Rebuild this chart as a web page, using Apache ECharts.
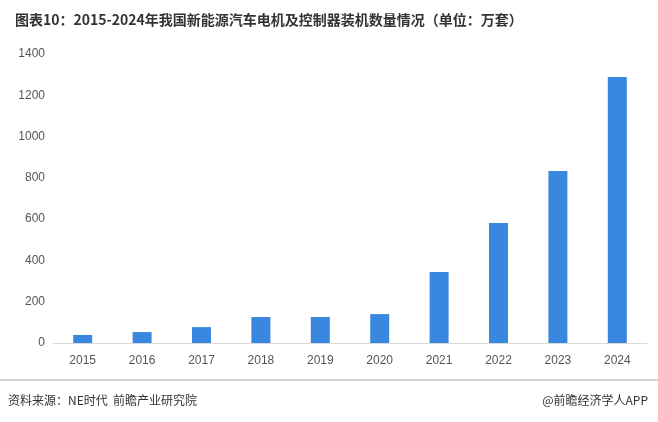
<!DOCTYPE html>
<html><head><meta charset="utf-8">
<script src="https://cdn.jsdelivr.net/npm/echarts@6/dist/echarts.min.js"></script>
<style>html,body{margin:0;padding:0;background:#fff}#c{width:658px;height:422px}</style>
</head><body><div id="c"></div>
<script>
const categories=['2015','2016','2017','2018','2019','2020','2021','2022','2023','2024'];
const values=[39,53,77,126,126,140,344,581,833,1289];
const chart=echarts.init(document.getElementById('c'));
chart.setOption({
  animation:false,
  title:{text:'图表10：2015-2024年我国新能源汽车电机及控制器装机数量情况（单位：万套）',left:10,top:8,
    textStyle:{fontSize:14,fontWeight:'bold',color:'#333',fontFamily:'Noto Sans CJK SC'}},
  graphic:[
    {type:'line',shape:{x1:0,y1:380,x2:658,y2:380},style:{stroke:'#aaa',lineWidth:1}},
    {type:'text',left:8,top:394,style:{text:'资料来源：NE时代  前瞻产业研究院',fontSize:12,fill:'#333',fontFamily:'Noto Sans CJK SC'}},
    {type:'text',right:10,top:394,style:{text:'@前瞻经济学人APP',fontSize:12,fill:'#333',fontFamily:'Noto Sans CJK SC'}}
  ],
  grid:{left:53,right:11,top:54,bottom:79},
  xAxis:{type:'category',data:categories,axisTick:{show:false},
    axisLine:{lineStyle:{color:'#d9d9d9'}},axisLabel:{color:'#555',fontSize:12,margin:12}},
  yAxis:{type:'value',min:0,max:1400,interval:200,splitLine:{show:false},
    axisLabel:{color:'#555',fontSize:12,formatter:v=>String(v)}},
  series:[{type:'bar',data:values,barWidth:19,itemStyle:{color:'#3a87e0'}}]
});
</script></body></html>
